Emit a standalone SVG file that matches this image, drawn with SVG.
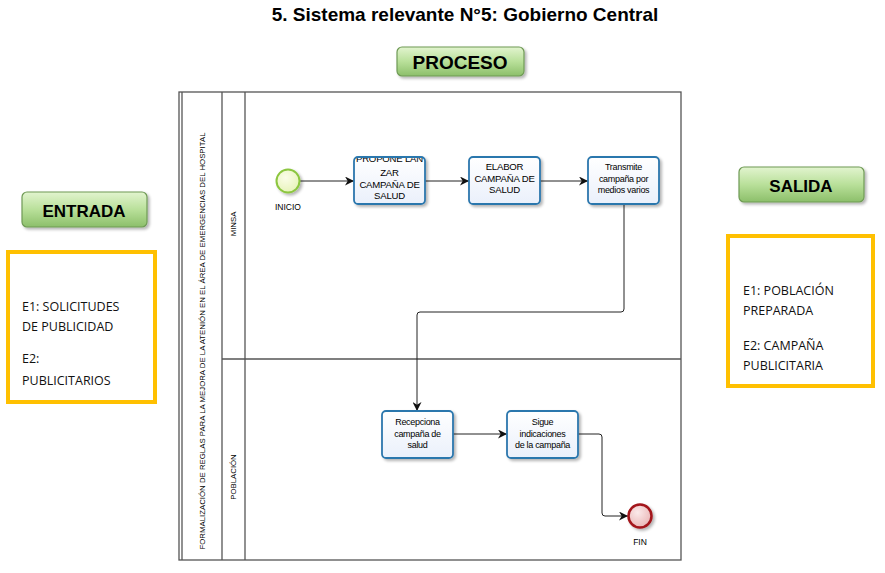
<svg xmlns="http://www.w3.org/2000/svg" width="885" height="573" viewBox="0 0 885 573">
<style>
.title{font-family:"Liberation Sans",Arial,sans-serif;font-weight:bold;font-size:19px;fill:#000}
.btn{font-family:"Liberation Sans",Arial,sans-serif;font-weight:bold;fill:#000;text-anchor:middle}
.btnbox{fill:url(#gBtn);stroke:#6f9a55;stroke-width:1.2}
.ybox{fill:#fff;stroke:#FFC000;stroke-width:4}
.ytxt{font-family:"Open Sans","Liberation Sans",sans-serif;font-size:12.5px;fill:#111}
.pool{fill:#fff;stroke:#555;stroke-width:1.3}
.lane{fill:none;stroke:#555;stroke-width:1.3}
.vlab{font-family:"Liberation Sans",Arial,sans-serif;font-size:7.8px;fill:#000;text-anchor:middle}
.task{fill:url(#gTask);stroke:#2c77ad;stroke-width:1.8}
.tt{font-family:"Liberation Sans",Arial,sans-serif;font-size:9.6px;fill:#000;text-anchor:middle;letter-spacing:-0.2px}
.ts{font-family:"Liberation Sans",Arial,sans-serif;font-size:9px;fill:#000;text-anchor:middle;letter-spacing:-0.3px}
.ev{font-family:"Liberation Sans",Arial,sans-serif;font-size:8.5px;fill:#000;text-anchor:middle}
.con{fill:none;stroke:#222;stroke-width:1;marker-end:url(#arr)}
</style>
<defs>
<linearGradient id="gBtn" x1="0" y1="0" x2="0" y2="1">
<stop offset="0" stop-color="#e2f4cf"/>
<stop offset="0.5" stop-color="#b9e09a"/>
<stop offset="1" stop-color="#8cbf6a"/>
</linearGradient>
<linearGradient id="gTask" x1="0" y1="0" x2="0" y2="1">
<stop offset="0" stop-color="#ffffff"/>
<stop offset="1" stop-color="#eaf0fb"/>
</linearGradient>
<radialGradient id="gStart" cx="0.4" cy="0.35" r="0.7">
<stop offset="0" stop-color="#fbfde8"/>
<stop offset="1" stop-color="#e6f3b8"/>
</radialGradient>
<radialGradient id="gEnd" cx="0.4" cy="0.35" r="0.7">
<stop offset="0" stop-color="#fbeaea"/>
<stop offset="1" stop-color="#e9b4b4"/>
</radialGradient>
<filter id="sh" x="-20%" y="-20%" width="150%" height="150%">
<feGaussianBlur in="SourceAlpha" stdDeviation="1.5"/>
<feOffset dx="2" dy="2" result="o"/>
<feComponentTransfer><feFuncA type="linear" slope="0.3"/></feComponentTransfer>
<feMerge><feMergeNode/><feMergeNode in="SourceGraphic"/></feMerge>
</filter>
<marker id="arr" viewBox="0 0 10 10" refX="10" refY="5" markerWidth="9" markerHeight="9" markerUnits="userSpaceOnUse" orient="auto">
<path d="M0,0 L10,5 L0,10 L3,5 Z" fill="#111"/>
</marker>
<clipPath id="c1"><rect x="355" y="158" width="69" height="45"/></clipPath>
</defs>

<text class="title" x="465" y="21" text-anchor="middle">5. Sistema relevante N°5: Gobierno Central</text>

<g id="proceso">
<rect class="btnbox" x="397" y="47" width="127" height="29" rx="5" filter="url(#sh)"/>
<text class="btn" x="460" y="69" font-size="19">PROCESO</text>
</g>
<g id="entrada">
<rect class="btnbox" x="22" y="192" width="125" height="35" rx="5" filter="url(#sh)"/>
<text class="btn" x="84" y="217" font-size="17">ENTRADA</text>
</g>
<g id="salida">
<rect class="btnbox" x="739" y="167" width="125" height="35" rx="5" filter="url(#sh)"/>
<text class="btn" x="801" y="192" font-size="17">SALIDA</text>
</g>

<g id="entrada-box">
<rect class="ybox" x="8" y="252" width="147" height="150"/>
<text class="ytxt" x="22" y="311">E1: SOLICITUDES</text>
<text class="ytxt" x="22" y="331">DE PUBLICIDAD</text>
<text class="ytxt" x="22" y="363">E2:</text>
<text class="ytxt" x="22" y="385">PUBLICITARIOS</text>
</g>
<g id="salida-box">
<rect class="ybox" x="728" y="236" width="145" height="150"/>
<text class="ytxt" x="743" y="295">E1: POBLACIÓN</text>
<text class="ytxt" x="743" y="315">PREPARADA</text>
<text class="ytxt" x="743" y="350">E2: CAMPAÑA</text>
<text class="ytxt" x="743" y="370">PUBLICITARIA</text>
</g>

<g id="pool">
<rect class="pool" x="179" y="92" width="502" height="468"/>
<line class="lane" x1="182" y1="92" x2="182" y2="560"/>
<line class="lane" x1="222" y1="92" x2="222" y2="560"/>
<line class="lane" x1="245" y1="92" x2="245" y2="560"/>
<line class="lane" x1="222" y1="359" x2="681" y2="359"/>
<text class="vlab" transform="translate(205,341) rotate(-90)" textLength="417" lengthAdjust="spacingAndGlyphs">FORMALIZACIÓN DE REGLAS PARA LA MEJORA DE LA ATENIÓN EN EL ÁREA DE EMERGENCIAS DEL HOSPITAL</text>
</g>
<g id="lane-minsa">
<text class="vlab" transform="translate(236,224) rotate(-90)">MINSA</text>
</g>
<g id="lane-poblacion">
<text class="vlab" transform="translate(236,477) rotate(-90)">POBLACIÓN</text>
</g>

<g id="connectors">
<path class="con" d="M300,181 L354,181"/>
<path class="con" d="M425,181 L469,181"/>
<path class="con" d="M540,181 L588,181"/>
<path class="con" d="M624,204 L624,309 Q624,312 621,312 L420,312 Q417,312 417,315 L417,411"/>
<path class="con" d="M453,434 L507,434"/>
<path class="con" d="M577,434 L599,434 Q602,434 602,437 L602,513 Q602,516 605,516 L628,516"/>
</g>

<g id="inicio">
<circle cx="288" cy="181" r="11.5" fill="url(#gStart)" stroke="#8cc63f" stroke-width="2" filter="url(#sh)"/>
<text class="ev" x="288" y="210">INICIO</text>
</g>
<g id="t1">
<rect class="task" x="354" y="157" width="71" height="47" rx="4" filter="url(#sh)"/>
<g clip-path="url(#c1)">
<text class="tt" x="389.5" y="161.5">PROPONE LAN</text>
<text class="tt" x="389.5" y="176">ZAR</text>
<text class="tt" x="389.5" y="188">CAMPAÑA DE</text>
<text class="tt" x="389.5" y="199">SALUD</text>
</g>
</g>
<g id="t2">
<rect class="task" x="469" y="157" width="71" height="47" rx="4" filter="url(#sh)"/>
<text class="tt" x="504.5" y="170">ELABOR</text>
<text class="tt" x="504.5" y="182">CAMPAÑA DE</text>
<text class="tt" x="504.5" y="193">SALUD</text>
</g>
<g id="t3">
<rect class="task" x="588" y="157" width="71" height="47" rx="4" filter="url(#sh)"/>
<text class="ts" x="623.5" y="170">Transmite</text>
<text class="ts" x="623.5" y="182">campaña por</text>
<text class="ts" x="623.5" y="193">medios varios</text>
</g>
<g id="t4">
<rect class="task" x="382" y="411" width="71" height="47" rx="4" filter="url(#sh)"/>
<text class="ts" x="417.5" y="425">Recepciona</text>
<text class="ts" x="417.5" y="437">campaña de</text>
<text class="ts" x="417.5" y="448">salud</text>
</g>
<g id="t5">
<rect class="task" x="507" y="411" width="71" height="47" rx="4" filter="url(#sh)"/>
<text class="ts" x="542.5" y="425">Sigue</text>
<text class="ts" x="542.5" y="437">indicaciones</text>
<text class="ts" x="542.5" y="448">de la campaña</text>
</g>
<g id="fin">
<circle cx="640" cy="516" r="11.5" fill="url(#gEnd)" stroke="#a3151b" stroke-width="2.5" filter="url(#sh)"/>
<text class="ev" x="640" y="545">FIN</text>
</g>
</svg>
